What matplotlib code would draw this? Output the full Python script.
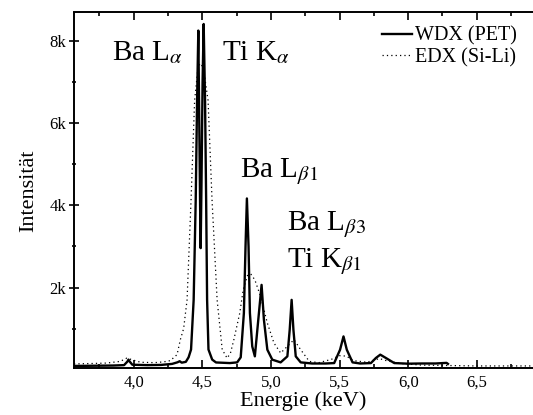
import matplotlib
matplotlib.use('Agg')
import matplotlib.pyplot as plt
from matplotlib.ticker import MultipleLocator, FuncFormatter

plt.rcParams['font.family'] = ['Liberation Serif', 'DejaVu Serif']
plt.rcParams['mathtext.fontset'] = 'stix'

# WDX (PET) spectrum
wdx_energy = [3.565, 3.70, 3.85, 3.93, 3.955, 3.962, 3.970, 3.99, 4.10, 4.20,
              4.28, 4.32, 4.335, 4.35, 4.38, 4.40, 4.418, 4.437, 4.452, 4.462,
              4.471, 4.478, 4.484, 4.488, 4.494, 4.502, 4.510, 4.520, 4.528, 4.535,
              4.545, 4.572, 4.60, 4.70, 4.754, 4.780, 4.803, 4.815, 4.825, 4.837,
              4.847, 4.864, 4.883, 4.908, 4.932, 4.949, 4.974, 5.010, 5.071, 5.12,
              5.137, 5.151, 5.164, 5.181, 5.217, 5.30, 5.40, 5.461, 5.504, 5.529,
              5.553, 5.595, 5.65, 5.729, 5.765, 5.797, 5.838, 5.899, 6.00, 6.10,
              6.20, 6.28, 6.29]
wdx_counts = [90, 95, 100, 110, 200, 245, 200, 120, 110, 115,
              140, 180, 205, 170, 190, 300, 490, 1700, 4130, 6560,
              8260, 6000, 4000, 2960, 4500, 7000, 8420, 6560, 4130, 1700,
              490, 245, 175, 160, 177, 300, 1378, 3000, 4170, 3000,
              1378, 566, 324, 1215, 2065, 1215, 486, 243, 177, 324,
              972, 1700, 972, 324, 177, 150, 150, 160, 486, 810,
              486, 177, 150, 160, 284, 365, 284, 160, 145, 150,
              150, 165, 140]

# EDX (Si-Li) spectrum
edx_energy = [3.565, 3.70, 3.80, 3.90, 3.95, 3.98, 4.05, 4.15, 4.22, 4.267,
              4.316, 4.34, 4.364, 4.389, 4.418, 4.444, 4.47, 4.49, 4.51, 4.542,
              4.571, 4.608, 4.645, 4.681, 4.705, 4.730, 4.773, 4.798, 4.839, 4.883,
              4.925, 4.974, 5.022, 5.071, 5.132, 5.168, 5.217, 5.28, 5.35, 5.44,
              5.50, 5.55, 5.60, 5.70, 5.79, 5.85, 5.95, 6.10, 6.30, 6.50,
              6.70, 6.91]
edx_counts = [140, 150, 160, 200, 280, 250, 180, 170, 190, 220,
              365, 730, 1000, 1700, 4130, 6560, 7400, 7460, 7300, 6560,
              4130, 1700, 490, 280, 400, 730, 1378, 1944, 2400, 2187,
              1780, 1135, 650, 405, 608, 730, 486, 200, 170, 250,
              340, 330, 220, 180, 270, 210, 150, 110, 100, 90,
              90, 90]

peak_labels = ['Ba L$_{\\alpha}$', 'Ti K$_{\\alpha}$', 'Ba L$_{\\beta1}$',
               'Ba L$_{\\beta3}$', 'Ti K$_{\\beta1}$']
label_pos = [(0.083, 0.866), (0.322, 0.866), (0.362, 0.538),
             (0.463, 0.388), (0.463, 0.285)]

fig = plt.figure(figsize=(5.33, 4.15), dpi=100)
ax = fig.add_axes([74 / 533, 47 / 415, 459 / 533, 355.5 / 415])

ax.plot(wdx_energy, wdx_counts, color='black', lw=1.7, label='WDX (PET)')
ax.plot(edx_energy, edx_counts, color='black', lw=0.9, ls=(0, (1, 2.5)),
        label='EDX (Si-Li)')

for txt, (px, py) in zip(peak_labels, label_pos):
    ax.text(px, py, txt, transform=ax.transAxes, fontsize=21, va='baseline')

ax.set_xlim(3.565, 6.91)
ax.set_ylim(40, 8700)

ax.xaxis.set_major_locator(MultipleLocator(0.5))
ax.xaxis.set_minor_locator(MultipleLocator(0.25))
ax.xaxis.set_major_formatter(FuncFormatter(lambda v, p: f'{v:.1f}'.replace('.', ',')))
ax.yaxis.set_major_locator(MultipleLocator(2000))
ax.yaxis.set_minor_locator(MultipleLocator(1000))
ax.yaxis.set_major_formatter(FuncFormatter(lambda v, p: f'{int(v / 1000)}k'))

ax.tick_params(axis='x', which='both', direction='in', top=True, labelsize=12,
               width=1.2, pad=5)
ax.tick_params(axis='x', which='major', length=6)
ax.tick_params(axis='x', which='minor', length=3)
ax.tick_params(axis='y', which='both', direction='inout', labelsize=12, width=1.2,
               pad=2)
ax.tick_params(axis='y', which='major', length=7)
ax.tick_params(axis='y', which='minor', length=3)

for side in ['left', 'bottom', 'top']:
    ax.spines[side].set_linewidth(1.4)
ax.spines['right'].set_visible(False)

ax.set_xlabel('Energie (keV)', fontsize=16, labelpad=0)
ax.set_ylabel('Intensität', fontsize=16, labelpad=8)

ax.legend(loc='upper right', frameon=False, fontsize=14.5, handlelength=1.5,
          handletextpad=0.15, labelspacing=0.1, borderaxespad=0.3,
          bbox_to_anchor=(0.996, 1.0))

plt.savefig('out.png', dpi=100)
